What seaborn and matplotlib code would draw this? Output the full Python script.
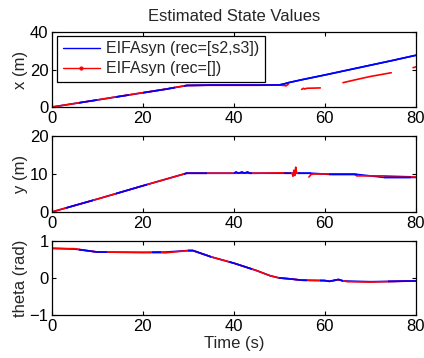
import numpy as np
import pandas as pd
import matplotlib
matplotlib.use("Agg")
import matplotlib.pyplot as plt
from matplotlib.path import Path
from matplotlib.lines import Line2D
import seaborn as sns

# ---- data ----
# x (m), blue = EIFAsyn (rec=[s2,s3])
x_blue_t = [0, 5, 10, 15, 20, 25, 29.6, 35, 40, 45, 50, 51, 52, 55, 60, 65, 70, 75, 80]
x_blue_v = [0, 1.9, 3.8, 5.7, 7.6, 9.5, 11.5, 11.7, 11.7, 11.7, 11.8, 12.3, 13.0, 14.6, 17.1, 19.7, 22.3, 24.9, 27.6]
# red = EIFAsyn (rec=[]), segments separated by gaps
x_red_t = [[0, 5, 10, 15, 20, 25, 29.6, 35, 40, 45, 50, 51, 51.5, 52],
           [54.9, 55.3, 55.6, 56, 59],
           [64, 67, 70, 74.6],
           [79.4, 80]]
x_red_v = [[0, 1.9, 3.8, 5.8, 7.7, 9.6, 11.5, 11.6, 11.6, 11.6, 11.7, 11.5, 11.3, 12.3],
           [9.4, 10.0, 9.6, 10.0, 10.2],
           [13.0, 14.7, 16.3, 18.3],
           [21.0, 21.4]]

# y (m)
y_blue_t = [0, 10, 20, 29.6, 35, 40, 40.5, 41, 41.8, 42.3, 43, 43.5, 50, 55, 57, 61, 67, 73, 80]
y_blue_v = [0, 3.4, 6.9, 10.2, 10.2, 10.2, 10.5, 10.2, 10.5, 10.2, 10.5, 10.2, 10.2, 10.2, 10.2, 9.9, 9.9, 9.1, 9.1]
y_red_t = [[0, 10, 20, 29.6, 35, 40, 45, 51, 52.8, 53.0, 53.2, 53.4, 53.6, 53.8, 54.5],
           [56.5, 57, 57.5, 61, 66.5, 67, 73, 80]]
y_red_v = [[0, 3.4, 6.9, 10.2, 10.2, 10.2, 10.2, 10.3, 10.2, 9.4, 11.0, 9.6, 11.8, 10.2, 10.2],
           [9.2, 9.9, 10.0, 10.0, 10.0, 9.5, 9.5, 9.2]]

# theta (rad)
th_blue_t = [0, 5, 10, 20, 25, 30, 31, 35, 40, 45, 48, 50, 52, 55, 60, 61, 63, 64, 70, 80]
th_blue_v = [0.80, 0.78, 0.70, 0.69, 0.70, 0.74, 0.74, 0.57, 0.40, 0.20, 0.06, 0.00, -0.02, -0.06, -0.07, -0.09, -0.04, -0.08, -0.10, -0.08]
th_red_t = [[0, 5, 10, 20, 25, 30, 31, 35, 40, 45, 48, 50, 52, 55, 60, 61, 63, 65, 70, 80]]
th_red_v = [[0.80, 0.79, 0.70, 0.69, 0.68, 0.74, 0.74, 0.57, 0.40, 0.20, 0.06, 0.00, -0.02, -0.06, -0.07, -0.09, -0.05, -0.10, -0.11, -0.08]]

# time windows where the blue trace sits on top of the red one
x_blue_top = [(6, 10), (14, 17), (20, 27), (29, 80)]
y_blue_top = [(3, 9), (14, 21), (29, 34), (40, 44), (51, 52.5), (54, 57), (61, 67), (73, 79)]
th_blue_top = [(6, 12), (22, 24), (30, 35), (39, 44), (50, 56), (59, 64), (74, 80)]

panels = [
    ("x (m)", (0, 40), [0, 20, 40], x_blue_t, x_blue_v, x_red_t, x_red_v, x_blue_top),
    ("y (m)", (0, 20), [0, 10, 20], y_blue_t, y_blue_v, y_red_t, y_red_v, y_blue_top),
    ("theta (rad)", (-1, 1), [-1, 0, 1], th_blue_t, th_blue_v, th_red_t, th_red_v, th_blue_top),
]

sns.set_style("ticks", {"xtick.direction": "in", "ytick.direction": "in"})
plt.rcParams["font.family"] = ["Liberation Sans", "DejaVu Sans"]
plt.rcParams["axes.linewidth"] = 0.9

BLUE = "#0000ff"
RED = "#ff0000"

fig = plt.figure(figsize=(4.24, 3.58), dpi=100)
boxes = [(0.1226, 0.701, 0.858, 0.2095),
         (0.1226, 0.408, 0.858, 0.212),
         (0.1226, 0.120, 0.858, 0.207)]


def clip_to_windows(line, ax, windows, lo, hi):
    verts, codes = [], []
    for a, b in windows:
        verts += [(a, lo), (b, lo), (b, hi), (a, hi), (a, lo)]
        codes += [Path.MOVETO, Path.LINETO, Path.LINETO, Path.LINETO, Path.CLOSEPOLY]
    line.set_clip_path(Path(verts, codes), ax.transData)


for box, (lab, ylim, yt, bt, bv, rts, rvs, tops) in zip(boxes, panels):
    ax = fig.add_axes(box)
    blue = pd.DataFrame({"t": bt, "v": bv})
    red = pd.concat([pd.DataFrame({"t": t, "v": v, "seg": i})
                     for i, (t, v) in enumerate(zip(rts, rvs))])

    sns.lineplot(data=blue, x="t", y="v", color=BLUE, lw=1.2, ax=ax)
    sns.lineplot(data=red, x="t", y="v", units="seg", estimator=None,
                 color=RED, lw=1.2, ax=ax)
    n = len(ax.lines)
    sns.lineplot(data=blue, x="t", y="v", color=BLUE, lw=1.2, ax=ax)
    for ln in ax.lines[n:]:
        clip_to_windows(ln, ax, tops, ylim[0] - 5, ylim[1] + 5)

    ax.set_xlim(0, 80)
    ax.set_ylim(*ylim)
    ax.set_xticks([0, 20, 40, 60, 80])
    ax.set_yticks(yt)
    ax.set_ylabel(lab, fontsize=12, labelpad=1)
    ax.set_xlabel("")
    for s in ax.spines.values():
        s.set_visible(True)
        s.set_color("black")
    ax.tick_params(direction="in", top=True, right=True, length=3, width=0.8,
                   labelsize=12, colors="black")
    ax.tick_params(axis="x", pad=3)
    ax.tick_params(axis="y", pad=2.5)
    ax.grid(False)

    if lab == "x (m)":
        ax.set_title("Estimated State Values", fontsize=12, pad=8)
        handles = [Line2D([], [], color=BLUE, lw=1.0),
                   Line2D([], [], color=RED, lw=1.0, marker=".", markersize=4)]
        leg = ax.legend(handles, ["EIFAsyn (rec=[s2,s3])", "EIFAsyn (rec=[])"],
                        loc="upper left", bbox_to_anchor=(0.015, 0.95),
                        fontsize=11.5, frameon=True, fancybox=False,
                        borderpad=0.35, labelspacing=0.3, handlelength=2.3,
                        handletextpad=0.4, borderaxespad=0)
        leg.get_frame().set_edgecolor("black")
        leg.get_frame().set_linewidth(0.9)
        leg.get_frame().set_alpha(1)
    if lab == "theta (rad)":
        ax.set_xlabel("Time (s)", fontsize=12, labelpad=1)

fig.savefig("out.png", dpi=100)
